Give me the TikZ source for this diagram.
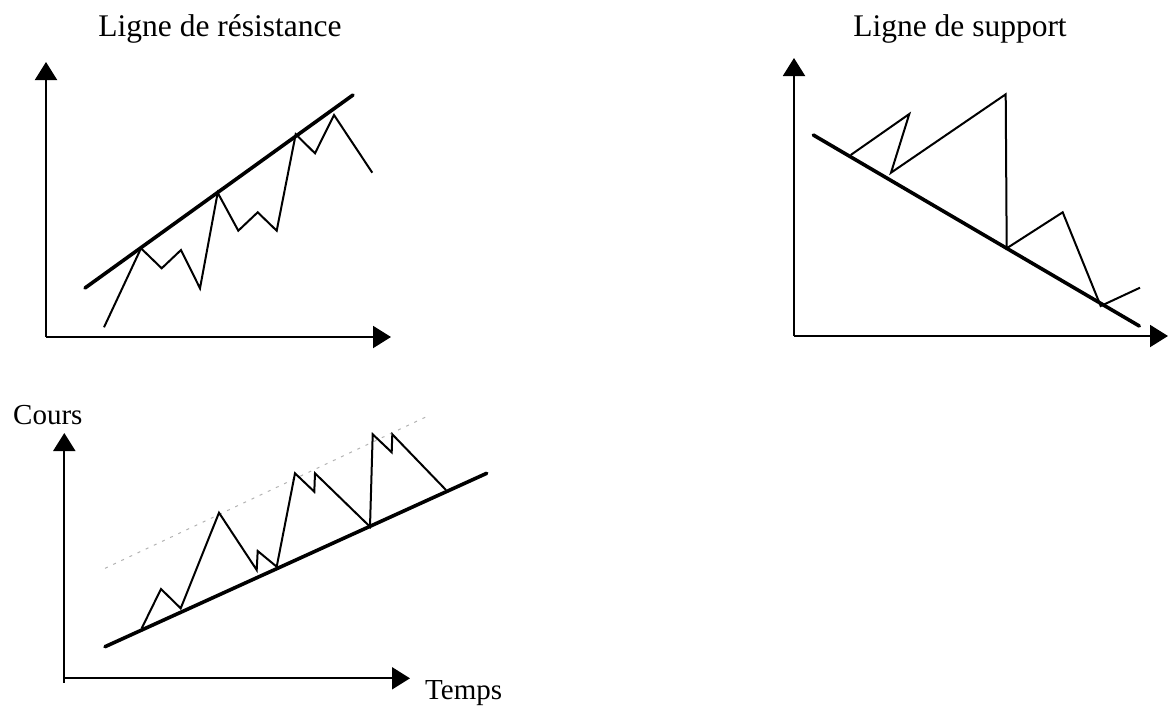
\documentclass[tikz,border=0pt]{standalone}
\usepackage{fontspec}
\setmainfont{Liberation Serif}
\usetikzlibrary{arrows.meta}
\tikzset{
  axis/.style={line width=2pt, -{Triangle[length=18pt,width=22pt]}},
  price/.style={line width=2pt, line join=miter},
  trend/.style={line width=3.6pt, line cap=round},
  ghost/.style={line width=1pt, gray!60, dash pattern=on 3pt off 6pt},
  lbl/.style={font=\fontsize{29}{34}\selectfont, inner sep=0pt, anchor=base},
  ttl/.style={font=\fontsize{31.5}{36}\selectfont, inner sep=0pt, anchor=base}
}
\begin{document}
\begin{tikzpicture}[x=1pt,y=-1pt]
\useasboundingbox (0,0) rectangle (1168,707);
% ---- panel 1: resistance ----
\node[ttl] (t1) at (220,36) {Ligne de résistance};
\draw[axis] (46,337) -- (46,62);
\draw[axis] (46,337) -- (391,337);
\draw[trend] (85,288) -- (353,95);
\draw[price] (104,327.3) -- (141,248.3) -- (161.7,268.3) -- (181,250) -- (200,288.3)
  -- (217.7,192.7) -- (238.3,230.7) -- (257.7,212.3) -- (276.7,230.7) -- (295.7,134.3)
  -- (315,153.3) -- (334,115) -- (372.3,172.7);
% ---- panel 2: support ----
\node[ttl] (t2) at (960,36) {Ligne de support};
\draw[axis] (794,336) -- (794,58);
\draw[axis] (794,336) -- (1168,336);
\draw[trend] (813.3,135) -- (1139.3,326);
\draw[price] (850.7,155) -- (909.3,114) -- (891,172.7) -- (1005.7,94.3) -- (1006.7,248.3)
  -- (1062.7,212.3) -- (1100.7,306) -- (1140,287.7);
% ---- panel 3 ----
\node[lbl, anchor=base west] (cours) at (13,424) {Cours};
\node[lbl, anchor=base west] (temps) at (425,699) {Temps};
\draw[axis] (64.3,682.5) -- (64.3,433);
\draw[axis] (64.3,678.3) -- (410,678.3);
\draw[ghost] (105,568.3) -- (430,415);
\draw[trend] (105,646.7) -- (486.7,473.3);
\draw[price] (141.7,628.3) -- (161,589) -- (180.7,608.3) -- (219,512.7) -- (256.7,570)
  -- (257.7,551) -- (276.7,566.7) -- (295,473.3) -- (314.3,491.7) -- (315,473.3)
  -- (370,526.7) -- (372.7,434.3) -- (391.7,452.3) -- (392.3,434.3) -- (446,490);
\end{tikzpicture}
\end{document}
